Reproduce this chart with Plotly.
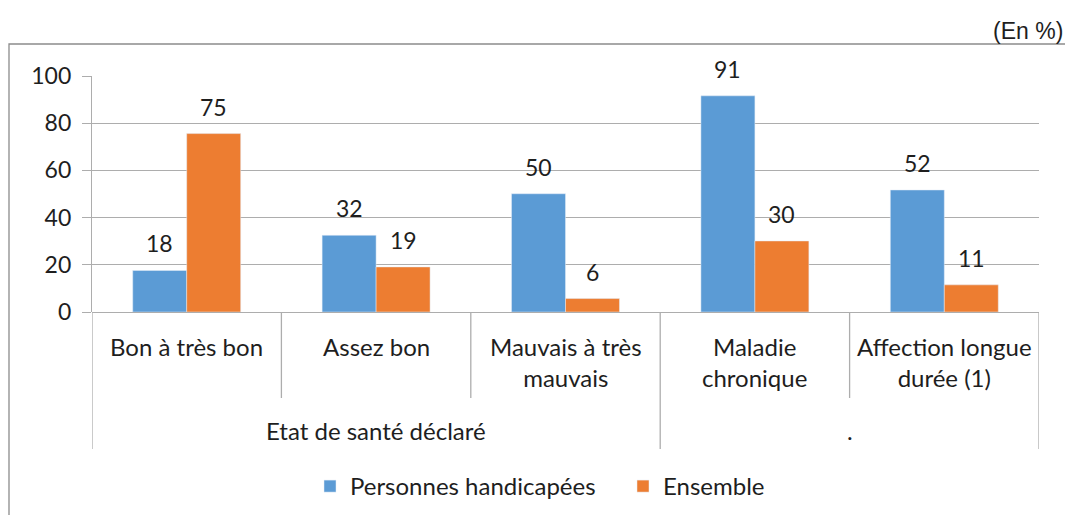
import plotly.graph_objects as go

categories = ["Bon à très bon", "Assez bon", "Mauvais à très<br>mauvais", "Maladie<br>chronique", "Affection longue<br>durée (1)"]
groups = ["Etat de santé déclaré", "."]
group_spans = [(0, 2), (3, 4)]
series_names = ["Personnes handicapées", "Ensemble"]
handicapees = [17.6, 32.5, 50.1, 91.6, 51.7]
ensemble = [75.6, 19.1, 5.7, 30.1, 11.5]
labels_handicapees = [18, 32, 50, 91, 52]
labels_ensemble = [75, 19, 6, 30, 11]
y_ticks = [0, 20, 40, 60, 80, 100]
unit_label = "(En %)"

W, H = 1065, 515
L, R, T, B = 92, 26, 76, 203
PW, PH = W - L - R, H - T - B
def px2x(px):
    return (px - L) / PW
def py2y(py):
    return (H - B - py) / PH

FONT = "Lato"
TXT = "#1e1e1e"
GRID = "#ADADAD"
BLUE = "#5B9BD5"
ORANGE = "#ED7D31"
BARGAP = 0.43

xi = list(range(len(categories)))
fig = go.Figure()
fig.add_trace(go.Bar(x=xi, y=handicapees, name=series_names[0], marker_color=BLUE))
fig.add_trace(go.Bar(x=xi, y=ensemble, name=series_names[1], marker_color=ORANGE))

off = (1 - BARGAP) / 4
ann = []
for i in xi:
    for dx, v, lab in ((-off, handicapees[i], labels_handicapees[i]), (off, ensemble[i], labels_ensemble[i])):
        ann.append(dict(x=i + dx, y=v, xref="x", yref="y", text=str(lab), showarrow=False,
                        yanchor="bottom", yshift=11, font=dict(family=FONT, size=23, color=TXT)))
    ann.append(dict(x=i, y=py2y(330), xref="x", yref="paper", text=categories[i], showarrow=False,
                    yanchor="top", font=dict(family=FONT, size=24, color=TXT)))
for g, (a, b) in zip(groups, group_spans):
    ann.append(dict(x=(a + b) / 2, y=py2y(430), xref="x", yref="paper", text=g, showarrow=False,
                    yanchor="middle", font=dict(family=FONT, size=24, color=TXT)))
ann.append(dict(x=px2x(1065), y=py2y(31), xref="paper", yref="paper", text=unit_label, showarrow=False,
                xanchor="right", yanchor="middle", font=dict(family="Liberation Sans", size=23, color=TXT)))

shapes = []
# outer frame
shapes.append(dict(type="rect", xref="paper", yref="paper", x0=px2x(9), x1=px2x(1070), y0=py2y(520), y1=py2y(44),
                   line=dict(color="#8C8C8C", width=1.3)))
# separators
for i in range(len(categories) - 1):
    bnd = i + 0.5
    outer = any(abs(bnd - (b + 0.5)) < 1e-9 for (a, b) in group_spans)
    shapes.append(dict(type="line", xref="x", yref="paper", x0=bnd, x1=bnd, y0=0, y1=py2y(449 if outer else 398),
                       line=dict(color=GRID, width=1.3)))
for bnd in (-0.5, len(categories) - 0.5):
    shapes.append(dict(type="line", xref="x", yref="paper", x0=bnd, x1=bnd, y0=0, y1=py2y(449),
                       line=dict(color=GRID, width=1.3)))

fig.update_layout(
    width=W, height=H, margin=dict(l=L, r=R, t=T, b=B, autoexpand=False),
    paper_bgcolor="white", plot_bgcolor="white",
    barmode="group", bargap=BARGAP, bargroupgap=0,
    font=dict(family=FONT, size=23, color=TXT),
    xaxis=dict(range=[-0.5, len(categories) - 0.5], showticklabels=False, showgrid=False, zeroline=False,
               showline=False, ticks=""),
    yaxis=dict(range=[0, 100], tickvals=y_ticks, showgrid=True, gridcolor=GRID, gridwidth=1.3,
               zeroline=True, zerolinecolor=GRID, zerolinewidth=1.3,
               showline=True, linecolor=GRID, linewidth=1.3, ticks="outside", ticklen=9, tickcolor=GRID,
               tickwidth=1.3, tickfont=dict(family=FONT, size=23, color=TXT), ticklabelstandoff=6),
    legend=dict(orientation="h", x=px2x(310), y=py2y(464), xanchor="left", yanchor="top",
                font=dict(family=FONT, size=24, color=TXT), entrywidth=268, bgcolor="rgba(0,0,0,0)"),
    annotations=ann, shapes=shapes,
)
fig.write_html("out.html", config={"displayModeBar": False},
               post_script="document.body.style.margin='0';document.body.style.overflow='hidden';")
